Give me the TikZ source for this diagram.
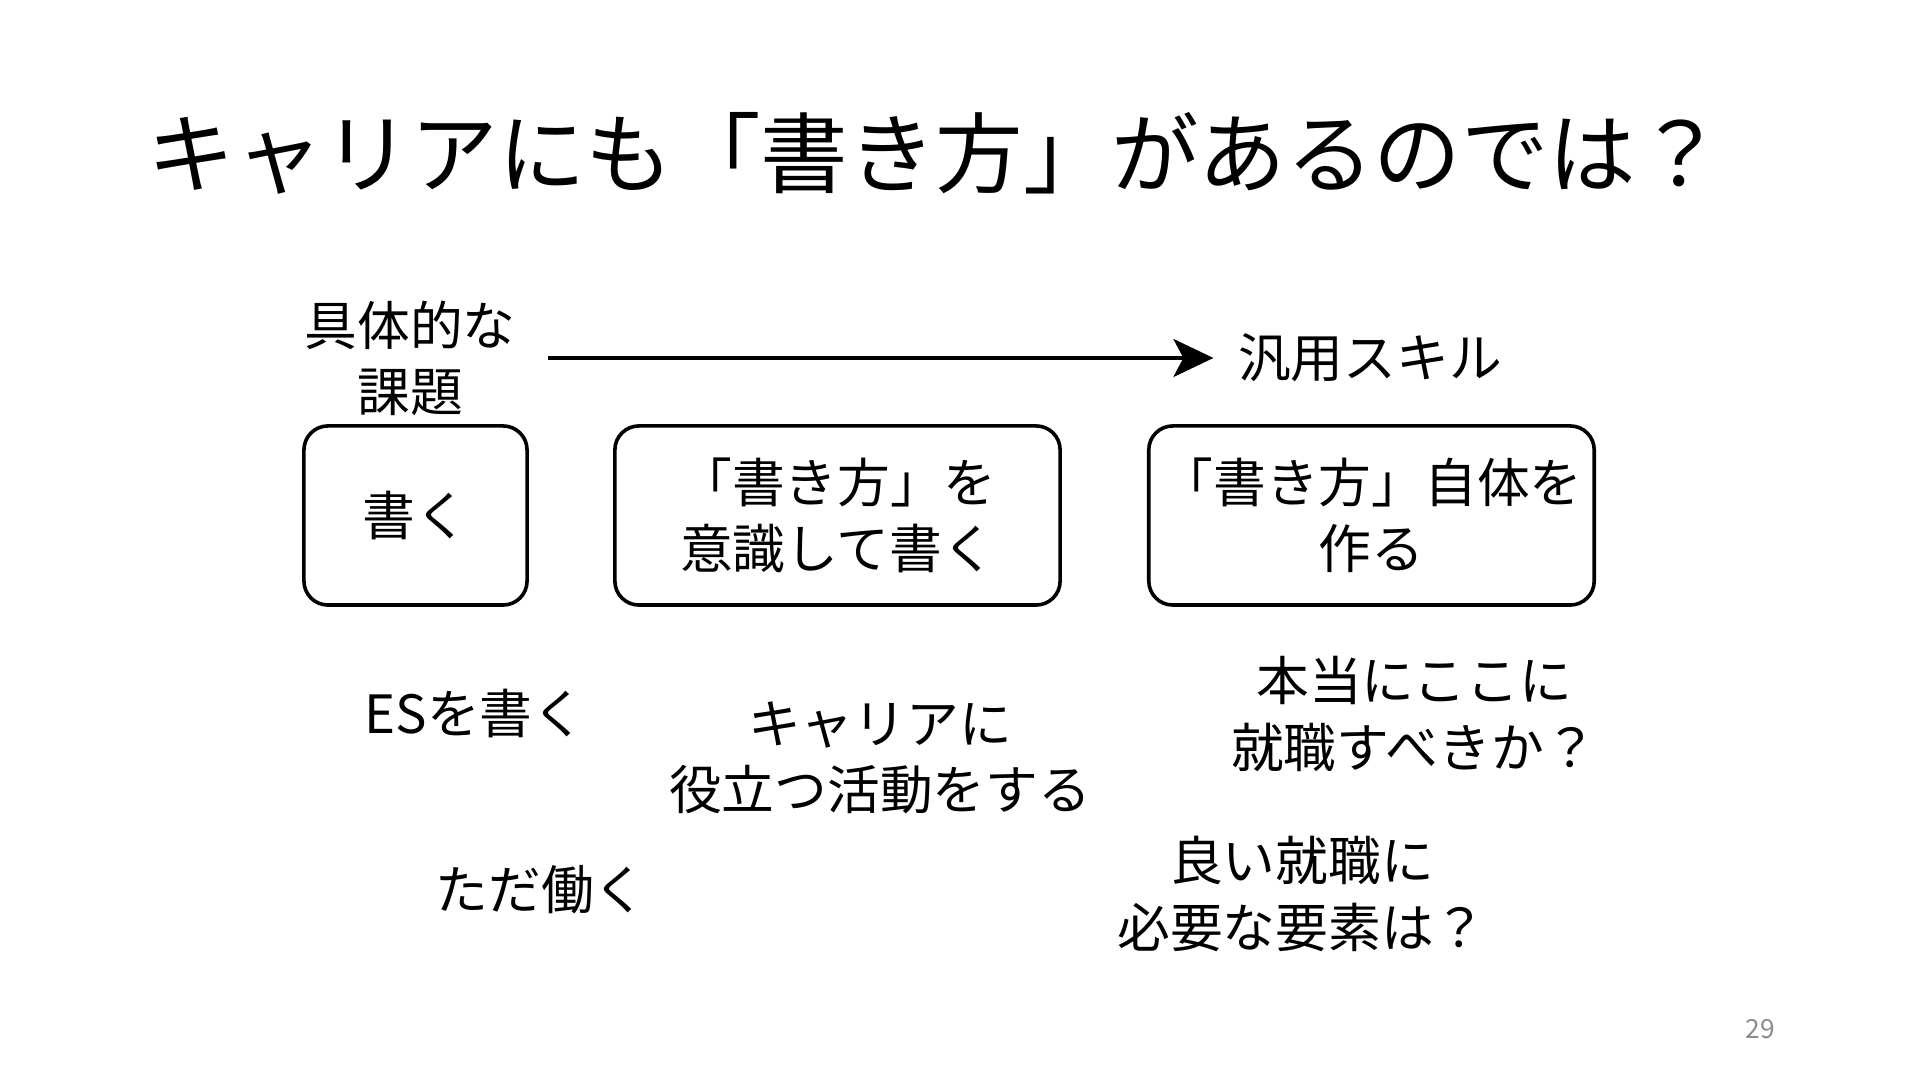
\documentclass[tikz,border=0pt]{standalone}
\usepackage{fontspec}
\setmainfont{Noto Sans CJK JP}
\usetikzlibrary{arrows.meta}

\begin{document}
\begin{tikzpicture}[x=0.01cm, y=-0.01cm,
  title/.style={inner sep=0pt, font={\fontsize{24.9pt}{30pt}\selectfont}},
  word/.style={inner sep=0pt, align=center, font={\fontsize{15pt}{18.8pt}\selectfont}},
  box/.style={draw, line width=0.036cm, rounded corners=0.24cm, minimum height=1.79cm, align=center, font={\fontsize{15pt}{18.8pt}\selectfont}},
  flow/.style={-{Stealth[length=0.4cm, width=0.38cm, inset=0.1cm]}, line width=0.035cm}]

\useasboundingbox[fill=white] (0,0) rectangle (1920,1080);

\node[title] (head) at (936, 153) {キャリアにも「書き方」があるのでは？};

\node[word] (gutai) at (410, 358) {具体的な\\課題};
\node[word] (hanyo) at (1370, 358) {汎用スキル};
\draw[flow, shorten <=0.32cm, shorten >=0.24cm] (gutai) -- (hanyo);

\node[box, minimum width=2.23cm] (kaku) at (415.5, 515.5) {書く};
\node[box, minimum width=4.45cm] (ishiki) at (837.5, 515.5) {「書き方」を\\意識して書く};
\node[box, minimum width=4.45cm] (tsukuru) at (1371.5, 515.5) {「書き方」自体を\\作る};

\node[word] (es) at (475, 713) {ESを書く};
\node[word] (katsudo) at (880, 758) {キャリアに\\役立つ活動をする};
\node[word] (tada) at (541, 890) {ただ働く};
\node[word] (honto) at (1414, 714) {本当にここに\\就職すべきか？};
\node[word] (yoi) at (1302, 894) {良い就職に\\必要な要素は？};

\node[inner sep=0pt, text=black!45, font={\fontsize{7.5pt}{9pt}\selectfont}] (page) at (1760, 1029) {29};

\end{tikzpicture}
\end{document}
